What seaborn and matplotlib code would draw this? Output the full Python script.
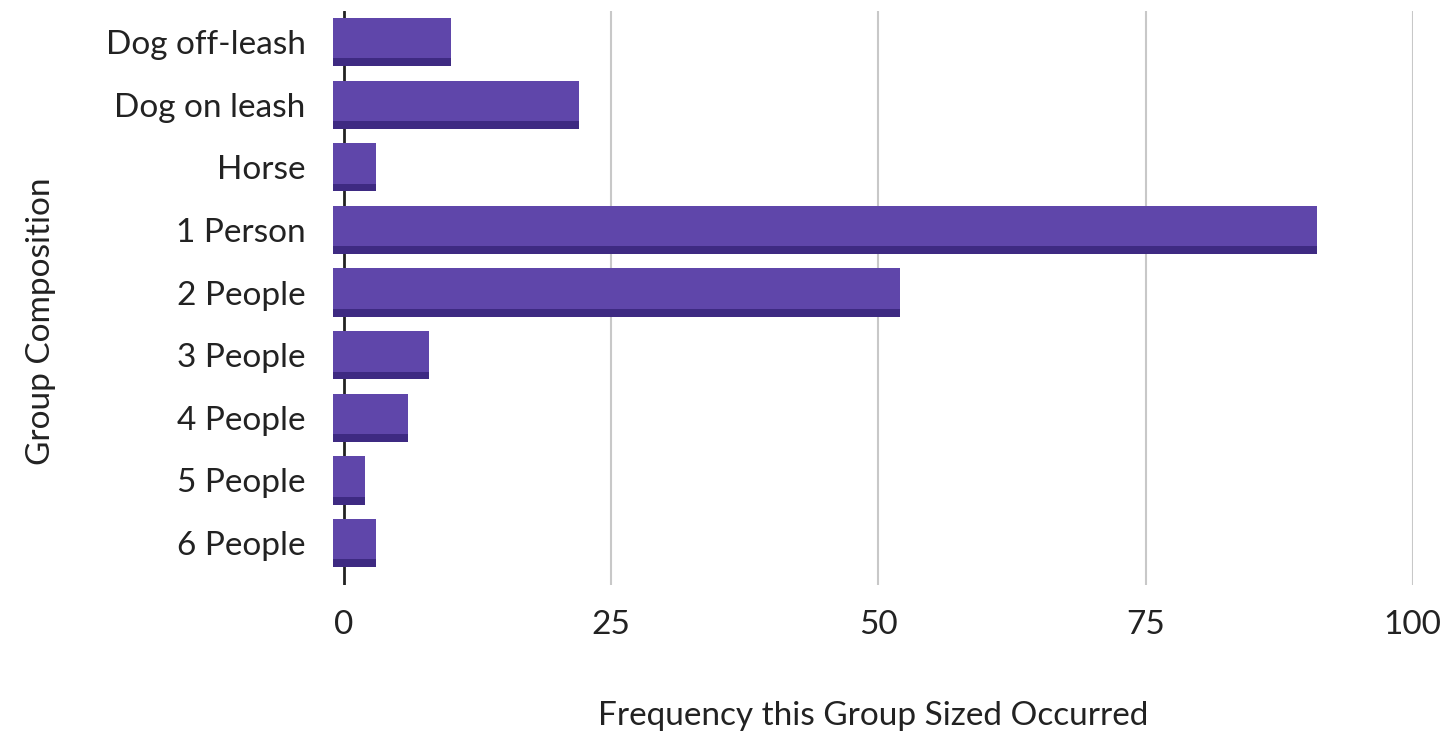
import matplotlib
matplotlib.use("Agg")
import matplotlib.pyplot as plt
from matplotlib.patches import Rectangle
import seaborn as sns
import pandas as pd

categories = ["Dog off-leash", "Dog on leash", "Horse", "1 Person", "2 People",
              "3 People", "4 People", "5 People", "6 People"]
frequency = [10, 22, 3, 91, 52, 8, 6, 2, 3]
x_ticks = [0, 25, 50, 75, 100]

df = pd.DataFrame({"Group": categories, "Frequency": frequency})

sns.set_theme(style="white")
plt.rcParams["font.family"] = ["Lato", "DejaVu Sans"]

face = "#5f46aa"
shade = "#3e2a82"
depth = 1.0  # front face of the bevelled bars sits slightly left of the axis

fig = plt.figure(figsize=(14.46, 7.38), dpi=100)
ax = fig.add_axes([0.2305, 0.2073, 0.7465, 0.7782])

sns.barplot(data=df, x="Frequency", y="Group", orient="h", color=face,
            width=0.77, saturation=1, ax=ax, zorder=3, edgecolor="none")

# bevelled look: front face shifted by the depth, darker lower edge
for p in ax.patches[:len(categories)]:
    w, h = p.get_width(), p.get_height()
    p.set_x(p.get_x() - depth)
    p.set_width(w + depth)
    x0, y0 = p.get_x(), p.get_y()
    ax.add_patch(Rectangle((x0, y0 + h * 0.84), w + depth, h * 0.16,
                           facecolor=shade, edgecolor="none", zorder=4))

ax.set_xlim(-1, 100)
ax.set_ylim(8.67, -0.5)
ax.set_xticks(x_ticks)
ax.set_xticklabels([str(t) for t in x_ticks])

for t in x_ticks[1:]:
    ax.axvline(t, color="#c8c8c8", lw=1.5, zorder=1)
ax.axvline(0, color="#222222", lw=2, zorder=2)

for s in ax.spines.values():
    s.set_visible(False)
ax.grid(False)

fs = 24
ax.tick_params(axis="x", length=0, pad=18, labelsize=fs, labelcolor="#222222")
ax.tick_params(axis="y", length=0, pad=20, labelsize=fs, labelcolor="#222222")

ax.set_xlabel("Frequency this Group Sized Occurred", fontsize=fs,
              color="#222222", labelpad=44)
ax.set_ylabel("Group Composition", fontsize=fs, color="#222222")
ax.yaxis.set_label_coords(-0.257, 0.46)

fig.savefig("out.png", dpi=100, facecolor="white")
